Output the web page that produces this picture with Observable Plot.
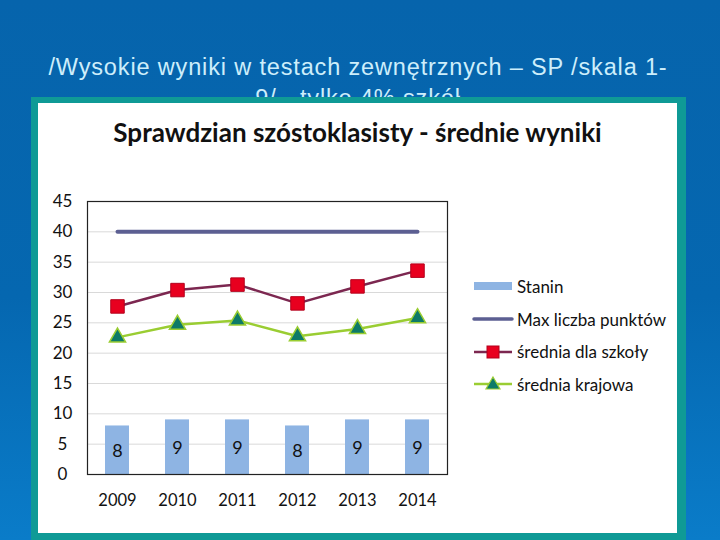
<!DOCTYPE html>
<html>
<head>
<meta charset="utf-8">
<script src="https://cdn.jsdelivr.net/npm/d3@7"></script>
<script src="https://cdn.jsdelivr.net/npm/@observablehq/plot@0.6"></script>
<style>
  html, body { margin: 0; padding: 0; }
  body {
    width: 720px; height: 540px; overflow: hidden; position: relative;
    background: linear-gradient(180deg, #0664ac 0%, #0567b0 55%, #0a7cc9 100%);
    font-family: "Liberation Sans", Arial, sans-serif;
  }
  #slideTitle {
    position: absolute; left: 0; top: 52px; width: 716px; text-align: center;
    color: #cdeefb; font-size: 23.5px; letter-spacing: 0.85px; line-height: 31px;
  }
  #frame {
    position: absolute; left: 31px; top: 97px; width: 655px; height: 443px;
    background: #0f9a96;
  }
  #panel {
    position: absolute; left: 38px; top: 103px; width: 639px; height: 430px;
    background: #ffffff;
  }
  #chartTitle {
    position: absolute; left: 38px; top: 116px; width: 639px; text-align: center;
    font-family: Lato, "Open Sans", sans-serif; font-weight: 700; font-size: 26px;
    color: #111;
  }
  #chart { position: absolute; left: 40px; top: 190px; }
  #legend { position: absolute; left: 472px; top: 270px; font-family: Lato, "Open Sans", sans-serif; font-size: 17px; color: #111; }
  .item { height: 32.7px; display: flex; align-items: center; }
  .item svg { margin-right: 3px; }
</style>
</head>
<body>
<div id="slideTitle">/Wysokie wyniki w testach zewnętrznych – SP /skala 1-<br>9/ - tylko 4% szkół</div>
<div id="frame"></div>
<div id="panel"></div>
<div id="chartTitle">Sprawdzian szóstoklasisty - średnie wyniki</div>
<div id="chart"></div>
<div id="legend"></div>
<script>
const years = ["2009", "2010", "2011", "2012", "2013", "2014"];
const stanin = [8, 9, 9, 8, 9, 9];
const maxPoints = [40, 40, 40, 40, 40, 40];
const schoolAvg = [27.7, 30.4, 31.3, 28.2, 31.0, 33.6];
const nationalAvg = [22.6, 24.7, 25.4, 22.8, 24.0, 25.8];
const yTicks = [0, 5, 10, 15, 20, 25, 30, 35, 40, 45];
const seriesNames = ["Stanin", "Max liczba punktów", "średnia dla szkoły", "średnia krajowa"];

const colors = {
  bar: "#8eb4e3", max: "#5c5f92", school: "#7c2750", squareFill: "#e8001f", squareStroke: "#b3001c",
  national: "#9acd32", triFill: "#0d7a68"
};

const data = years.map((y, i) => ({
  year: y, stanin: stanin[i], max: maxPoints[i], school: schoolAvg[i], national: nationalAvg[i]
}));

const chart = Plot.plot({
  width: 420, height: 330,
  marginLeft: 47, marginRight: 13, marginTop: 11, marginBottom: 46,
  style: { fontFamily: "Lato, 'Open Sans', sans-serif", background: "transparent" },
  x: { type: "band", domain: years, padding: 0, label: null },
  y: { domain: [0, 45], ticks: yTicks, label: null },
  marks: [
    Plot.gridY(yTicks, { stroke: "#d9d9d9", strokeOpacity: 1 }),
    Plot.barY(data, { x: "year", y: "stanin", fill: colors.bar, insetLeft: 18, insetRight: 18 }),
    Plot.text(data, { x: "year", y: d => d.stanin / 2, text: d => String(d.stanin), fontSize: 18, fill: "#111", dy: 1 }),
    Plot.lineY(data, { x: "year", y: "max", stroke: colors.max, strokeWidth: 4, strokeLinecap: "round" }),
    Plot.lineY(data, { x: "year", y: "school", stroke: colors.school, strokeWidth: 2.5 }),
    Plot.dot(data, { x: "year", y: "school", symbol: "square", r: 7.6, fill: colors.squareFill, stroke: colors.squareStroke, strokeWidth: 1 }),
    Plot.lineY(data, { x: "year", y: "national", stroke: colors.national, strokeWidth: 2.5 }),
    Plot.dot(data, { x: "year", y: "national", symbol: "triangle", r: 6, fill: colors.triFill, stroke: colors.national, strokeWidth: 1.5 }),
    Plot.frame({ stroke: "#222", strokeWidth: 1.2 }),
    Plot.axisY({ ticks: yTicks, tickSize: 0, tickPadding: 25, textAnchor: "middle", fontSize: 17, fill: "#111", label: null }),
    Plot.axisX({ tickSize: 0, tickPadding: 20, fontSize: 16.5, fill: "#111", label: null })
  ]
});
document.getElementById("chart").appendChild(chart);

// Legend
const legend = d3.select("#legend");
const swatches = [
  g => g.append("rect").attr("x", 2).attr("y", 7).attr("width", 38).attr("height", 8).attr("fill", colors.bar),
  g => g.append("line").attr("x1", 2).attr("x2", 40).attr("y1", 11).attr("y2", 11).attr("stroke", colors.max).attr("stroke-width", 3.5).attr("stroke-linecap", "round"),
  g => { g.append("line").attr("x1", 2).attr("x2", 40).attr("y1", 11).attr("y2", 11).attr("stroke", colors.school).attr("stroke-width", 2.5);
         g.append("rect").attr("x", 15).attr("y", 5).attr("width", 12).attr("height", 12).attr("fill", colors.squareFill).attr("stroke", colors.squareStroke); },
  g => { g.append("line").attr("x1", 2).attr("x2", 40).attr("y1", 11).attr("y2", 11).attr("stroke", colors.national).attr("stroke-width", 2.5);
         g.append("path").attr("d", "M21,4 L28,16 L14,16 Z").attr("fill", colors.triFill).attr("stroke", colors.national).attr("stroke-width", 1.2); }
];
seriesNames.forEach((name, i) => {
  const item = legend.append("div").attr("class", "item");
  const svg = item.append("svg").attr("width", 42).attr("height", 22);
  swatches[i](svg);
  item.append("span").text(name);
});
</script>
</body>
</html>
